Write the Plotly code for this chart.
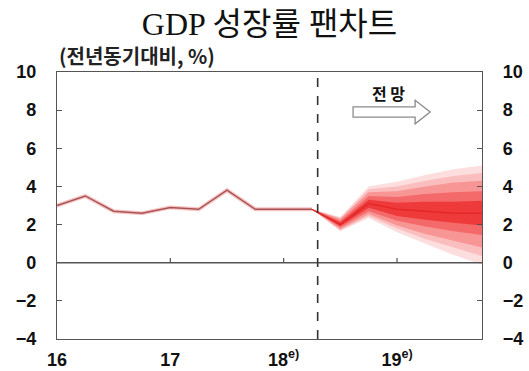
import plotly.graph_objects as go

# Quarterly GDP growth (YoY, %), 2016Q1 .. 2018Q2
actual_q = [0, 1, 2, 3, 4, 5, 6, 7, 8, 9]
actual_vals = [3.0, 3.5, 2.7, 2.6, 2.9, 2.8, 3.8, 2.8, 2.8, 2.8]

# Forecast fan, 2018Q2 .. 2019Q4
fan_q = [9, 10, 11, 12, 13, 14, 15]
fan_center = [2.8, 2.0, 3.1, 2.8, 2.7, 2.6, 2.6]
band_90_hi = [2.8, 2.4, 4.0, 4.25, 4.6, 4.9, 5.1]
band_90_lo = [2.8, 1.65, 2.35, 1.6, 1.0, 0.4, -0.1]
band_80_hi = [2.8, 2.35, 3.85, 4.0, 4.3, 4.55, 4.7]
band_80_lo = [2.8, 1.7, 2.45, 1.8, 1.25, 0.8, 0.35]
band_70_hi = [2.8, 2.3, 3.7, 3.75, 4.0, 4.2, 4.3]
band_70_lo = [2.8, 1.75, 2.55, 1.95, 1.5, 1.15, 0.8]
band_50_hi = [2.8, 2.2, 3.5, 3.45, 3.6, 3.7, 3.75]
band_50_lo = [2.8, 1.85, 2.7, 2.2, 1.9, 1.65, 1.45]
band_30_hi = [2.8, 2.12, 3.3, 3.15, 3.2, 3.2, 3.25]
band_30_lo = [2.8, 1.92, 2.88, 2.45, 2.25, 2.1, 1.95]

tick_q = [0, 4, 8, 12]
tick_text = ["16", "17", "18<sup>e)</sup>", "19<sup>e)</sup>"]
forecast_start = 9.2

bands = [
    (band_90_hi, band_90_lo, "rgb(253,222,222)"),
    (band_80_hi, band_80_lo, "rgb(251,190,190)"),
    (band_70_hi, band_70_lo, "rgb(248,150,150)"),
    (band_50_hi, band_50_lo, "rgb(244,105,105)"),
    (band_30_hi, band_30_lo, "rgb(238,58,58)"),
]

fig = go.Figure()

for hi, lo, col in bands:
    fig.add_trace(go.Scatter(
        x=fan_q + fan_q[::-1], y=hi + lo[::-1],
        fill="toself", fillcolor=col, mode="lines",
        line=dict(width=0, color=col),
        hoverinfo="skip", showlegend=False,
    ))

fig.add_trace(go.Scatter(
    x=fan_q, y=fan_center, mode="lines",
    line=dict(color="rgb(228,40,40)", width=1.5),
    hoverinfo="skip", showlegend=False,
))

# pale halo under the realised series
fig.add_trace(go.Scatter(
    x=actual_q, y=actual_vals, mode="lines",
    line=dict(color="rgba(240,150,150,0.55)", width=4),
    hoverinfo="skip", showlegend=False,
))
fig.add_trace(go.Scatter(
    x=actual_q, y=actual_vals, mode="lines",
    line=dict(color="rgb(168,84,84)", width=1.5),
    showlegend=False,
))

# invisible trace to activate right axis
fig.add_trace(go.Scatter(x=[0], y=[0], yaxis="y2", mode="markers",
                         marker=dict(opacity=0), hoverinfo="skip", showlegend=False))

tick_font = dict(family="Liberation Sans, Arial", size=18, color="#111", weight="bold")

shapes = [
    # zero line
    dict(type="line", xref="paper", x0=0, x1=1, yref="y", y0=0, y1=0,
         line=dict(color="#555", width=1.6)),
    # start of forecast
    dict(type="line", xref="x", x0=forecast_start, x1=forecast_start,
         yref="paper", y0=0, y1=1,
         line=dict(color="#333", width=1.6, dash="dash")),
]
for q in tick_q[1:]:
    shapes.append(dict(type="line", xref="x", x0=q, x1=q, yref="y", y0=0, y1=0.25,
                       line=dict(color="#555", width=1.2)))

# outlined arrow marking the forecast period
ax0, axh, ax1 = 10.45, 12.64, 13.17
ay, sh, hh = 7.9, 0.27, 0.62
arrow_path = (f"M {ax0},{ay - sh} L {axh},{ay - sh} L {axh},{ay - hh} L {ax1},{ay} "
              f"L {axh},{ay + hh} L {axh},{ay + sh} L {ax0},{ay + sh} Z")
shapes.append(dict(type="path", xref="x", yref="y", path=arrow_path,
                   fillcolor="white", line=dict(color="#8a8a8a", width=1.3)))

fig.update_layout(
    width=529, height=371,
    margin=dict(l=57, r=47, t=72, b=32),
    paper_bgcolor="white", plot_bgcolor="white",
    title=dict(text="GDP 성장률 팬차트", x=0.5, xanchor="center", xref="paper",
               y=0.937, yanchor="middle",
               font=dict(family="Liberation Serif, Noto Sans CJK KR", size=32, color="#111")),
    xaxis=dict(range=[0, 15], tickvals=tick_q, ticktext=tick_text, automargin=False,
               showline=True, linecolor="#555", linewidth=1.3, mirror=True,
               showgrid=False, zeroline=False, ticks="", tickfont=tick_font,
               ticklabelstandoff=4),
    yaxis=dict(range=[-4, 10], dtick=2, tick0=-4, showline=True, linecolor="#555",
               linewidth=1.3, showgrid=False, zeroline=False, ticks="inside",
               ticklen=5, tickcolor="#555", tickfont=tick_font, ticklabelstandoff=16,
               automargin=False),
    yaxis2=dict(range=[-4, 10], dtick=2, tick0=-4, overlaying="y", side="right",
                showline=True, linecolor="#555", linewidth=1.3, showgrid=False,
                zeroline=False, ticks="inside", ticklen=5, tickcolor="#555",
                tickfont=tick_font, ticklabelstandoff=16, automargin=False),
    shapes=shapes,
    annotations=[
        dict(text="<b>(전년동기대비, %)</b>", xref="paper", yref="paper",
             x=0, y=1, xanchor="left", yanchor="bottom", yshift=0, showarrow=False,
             font=dict(family="Noto Sans CJK KR", size=20, color="#222")),
        dict(text="<b>전 망</b>", xref="x", yref="y", x=11.7, y=8.9,
             showarrow=False, font=dict(family="Noto Sans CJK KR", size=16, color="#111")),
    ],
)

fig.write_html("out.html")
